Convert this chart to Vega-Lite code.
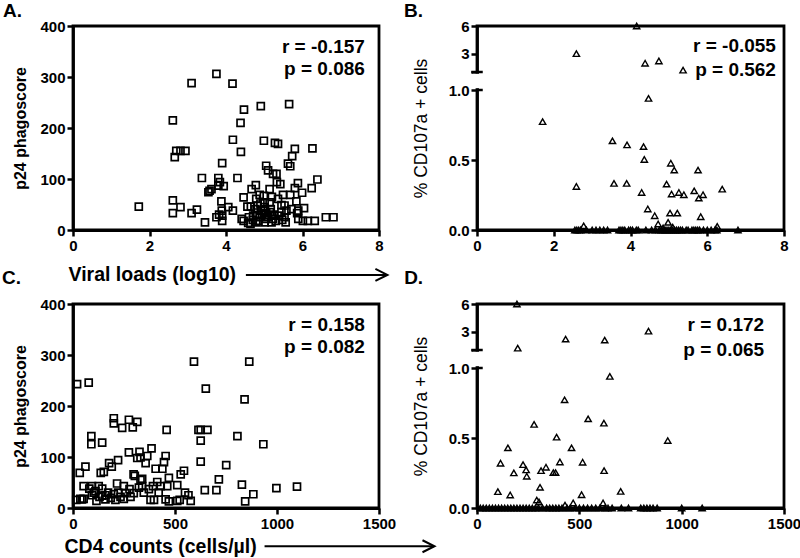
{
  "$schema": "https://vega.github.io/schema/vega-lite/v6.json",
  "padding": 0,
  "background": "white",
  "datasets": {
    "a": [
      {"vl":1.72,"p24":46},{"vl":2.61,"p24":215},{"vl":2.66,"p24":143},{"vl":2.70,"p24":155},{"vl":2.81,"p24":155},{"vl":2.94,"p24":155},{"vl":2.61,"p24":58},{"vl":2.61,"p24":33},{"vl":2.81,"p24":45},{"vl":3.10,"p24":288},{"vl":3.10,"p24":33},{"vl":3.24,"p24":40},{"vl":3.37,"p24":102},{"vl":3.45,"p24":15},{"vl":3.54,"p24":74},{"vl":3.57,"p24":77},{"vl":3.62,"p24":80},{"vl":3.75,"p24":306},{"vl":3.75,"p24":25},{"vl":3.80,"p24":102},{"vl":3.80,"p24":87},{"vl":3.84,"p24":94},{"vl":3.94,"p24":86},{"vl":3.90,"p24":131},{"vl":3.88,"p24":56},{"vl":3.89,"p24":38},{"vl":3.90,"p24":28},{"vl":3.90,"p24":18},{"vl":3.82,"p24":30},{"vl":4.06,"p24":45},{"vl":4.17,"p24":287},{"vl":4.18,"p24":177},{"vl":4.18,"p24":38},{"vl":4.30,"p24":102},{"vl":4.38,"p24":210},{"vl":4.39,"p24":153},{"vl":4.41,"p24":22},{"vl":4.47,"p24":236},{"vl":4.46,"p24":64},{"vl":4.46,"p24":18},{"vl":4.56,"p24":46},{"vl":4.58,"p24":14},{"vl":4.64,"p24":12},{"vl":4.65,"p24":46},{"vl":4.67,"p24":80},{"vl":4.71,"p24":28},{"vl":4.78,"p24":88},{"vl":4.79,"p24":61},{"vl":4.82,"p24":48},{"vl":4.82,"p24":29},{"vl":4.79,"p24":15},{"vl":4.91,"p24":243},{"vl":4.91,"p24":38},{"vl":4.88,"p24":25},{"vl":4.99,"p24":175},{"vl":4.99,"p24":67},{"vl":5.01,"p24":54},{"vl":5.02,"p24":38},{"vl":5.03,"p24":22},{"vl":5.05,"p24":126},{"vl":5.10,"p24":117},{"vl":5.14,"p24":80},{"vl":5.17,"p24":41},{"vl":5.19,"p24":28},{"vl":5.19,"p24":15},{"vl":5.23,"p24":110},{"vl":5.28,"p24":171},{"vl":5.32,"p24":110},{"vl":5.33,"p24":94},{"vl":5.36,"p24":169},{"vl":5.36,"p24":61},{"vl":5.39,"p24":28},{"vl":5.42,"p24":90},{"vl":5.45,"p24":49},{"vl":5.49,"p24":69},{"vl":5.53,"p24":48},{"vl":5.53,"p24":25},{"vl":5.56,"p24":15},{"vl":5.58,"p24":38},{"vl":5.65,"p24":247},{"vl":5.62,"p24":130},{"vl":5.68,"p24":125},{"vl":5.68,"p24":69},{"vl":5.71,"p24":41},{"vl":5.73,"p24":145},{"vl":5.80,"p24":159},{"vl":5.80,"p24":82},{"vl":5.86,"p24":33},{"vl":5.88,"p24":92},{"vl":5.89,"p24":38},{"vl":5.89,"p24":22},{"vl":5.99,"p24":73},{"vl":6.04,"p24":43},{"vl":6.01,"p24":18},{"vl":6.14,"p24":18},{"vl":6.24,"p24":82},{"vl":6.26,"p24":160},{"vl":6.32,"p24":18},{"vl":6.39,"p24":99},{"vl":6.61,"p24":25},{"vl":6.81,"p24":25},{"vl":5.84,"p24":56},{"vl":5.47,"p24":20},{"vl":5.23,"p24":22},{"vl":5.14,"p24":54},{"vl":4.88,"p24":69},{"vl":4.77,"p24":41},{"vl":5.01,"p24":15},
      {"vl":4.70,"p24":20},{"vl":4.85,"p24":18},{"vl":4.95,"p24":30},{"vl":5.05,"p24":33},{"vl":5.10,"p24":25},{"vl":5.15,"p24":35},{"vl":5.25,"p24":30},{"vl":5.30,"p24":18},{"vl":4.60,"p24":25},{"vl":5.45,"p24":35},{"vl":5.00,"p24":45},{"vl":4.90,"p24":52},{"vl":5.20,"p24":65}
    ],
    "b": [
      {"vl":1.71,"cd":0.774},{"vl":2.59,"cd":3.0},{"vl":2.59,"cd":0.311},{"vl":3.53,"cd":0.637},{"vl":3.57,"cd":0.333},{"vl":3.90,"cd":0.333},{"vl":3.91,"cd":0.608},{"vl":4.16,"cd":6},{"vl":4.29,"cd":0.268},{"vl":4.34,"cd":0.596},{"vl":4.36,"cd":0.504},{"vl":4.38,"cd":1.95},{"vl":4.45,"cd":0.150},{"vl":4.47,"cd":0.94},{"vl":4.63,"cd":0.102},{"vl":4.72,"cd":0.043},{"vl":4.74,"cd":2.2},{"vl":4.94,"cd":0.328},{"vl":4.98,"cd":0.055},{"vl":5.05,"cd":0.477},{"vl":5.03,"cd":0.121},{"vl":5.07,"cd":0.257},{"vl":5.14,"cd":0.428},{"vl":5.22,"cd":0.121},{"vl":5.26,"cd":0.268},{"vl":5.37,"cd":1.2},{"vl":5.39,"cd":0.252},{"vl":5.66,"cd":0.28},{"vl":5.76,"cd":0.428},{"vl":5.78,"cd":0.228},{"vl":5.83,"cd":0.095},{"vl":5.89,"cd":0.252},{"vl":6.39,"cd":0.292},{"vl":2.78,"cd":0.03},{"vl":6.26,"cd":0.026},{"vl":5.1,"cd":0.02},{"vl":4.85,"cd":0.015},
      {"vl":2.55,"cd":0},{"vl":2.6,"cd":0},{"vl":2.65,"cd":0},{"vl":2.7,"cd":0},{"vl":2.85,"cd":0},{"vl":3.0,"cd":0},{"vl":3.1,"cd":0},{"vl":3.2,"cd":0},{"vl":3.3,"cd":0},{"vl":3.4,"cd":0},{"vl":3.7,"cd":0},{"vl":3.75,"cd":0},{"vl":3.8,"cd":0},{"vl":3.85,"cd":0},{"vl":3.95,"cd":0},{"vl":4.0,"cd":0},{"vl":4.05,"cd":0},{"vl":4.15,"cd":0},{"vl":4.2,"cd":0},{"vl":4.4,"cd":0},{"vl":4.55,"cd":0},{"vl":4.65,"cd":0},{"vl":4.75,"cd":0},{"vl":4.8,"cd":0},{"vl":4.85,"cd":0},{"vl":4.9,"cd":0},{"vl":4.95,"cd":0},{"vl":5.0,"cd":0},{"vl":5.05,"cd":0},{"vl":5.1,"cd":0},{"vl":5.15,"cd":0},{"vl":5.2,"cd":0},{"vl":5.25,"cd":0},{"vl":5.3,"cd":0},{"vl":5.35,"cd":0},{"vl":5.45,"cd":0},{"vl":5.5,"cd":0},{"vl":5.6,"cd":0},{"vl":5.65,"cd":0},{"vl":5.7,"cd":0},{"vl":5.75,"cd":0},{"vl":5.8,"cd":0},{"vl":5.9,"cd":0},{"vl":6.0,"cd":0},{"vl":6.1,"cd":0},{"vl":6.2,"cd":0},{"vl":6.25,"cd":0},{"vl":6.8,"cd":0}
    ],
    "c": [
      {"cd4":20,"p24":243},{"cd4":77,"p24":246},{"cd4":33,"p24":69},{"cd4":16,"p24":16},{"cd4":36,"p24":18},{"cd4":52,"p24":18},{"cd4":61,"p24":81},{"cd4":52,"p24":43},{"cd4":80,"p24":38},{"cd4":90,"p24":141},{"cd4":90,"p24":125},{"cd4":93,"p24":43},{"cd4":102,"p24":30},{"cd4":110,"p24":33},{"cd4":115,"p24":14},{"cd4":126,"p24":43},{"cd4":136,"p24":69},{"cd4":143,"p24":128},{"cd4":151,"p24":71},{"cd4":143,"p24":38},{"cd4":143,"p24":24},{"cd4":159,"p24":17},{"cd4":172,"p24":30},{"cd4":177,"p24":88},{"cd4":190,"p24":81},{"cd4":200,"p24":176},{"cd4":200,"p24":166},{"cd4":200,"p24":27},{"cd4":208,"p24":16},{"cd4":221,"p24":94},{"cd4":216,"p24":48},{"cd4":221,"p24":30},{"cd4":233,"p24":22},{"cd4":241,"p24":157},{"cd4":249,"p24":43},{"cd4":249,"p24":18},{"cd4":274,"p24":109},{"cd4":274,"p24":173},{"cd4":277,"p24":37},{"cd4":282,"p24":22},{"cd4":293,"p24":158},{"cd4":297,"p24":66},{"cd4":303,"p24":63},{"cd4":315,"p24":169},{"cd4":315,"p24":98},{"cd4":326,"p24":110},{"cd4":331,"p24":99},{"cd4":331,"p24":55},{"cd4":323,"p24":40},{"cd4":339,"p24":57},{"cd4":347,"p24":30},{"cd4":356,"p24":88},{"cd4":364,"p24":102},{"cd4":372,"p24":37},{"cd4":380,"p24":16},{"cd4":385,"p24":117},{"cd4":392,"p24":43},{"cd4":397,"p24":16},{"cd4":405,"p24":77},{"cd4":413,"p24":51},{"cd4":420,"p24":30},{"cd4":430,"p24":43},{"cd4":438,"p24":77},{"cd4":446,"p24":90},{"cd4":454,"p24":102},{"cd4":459,"p24":153},{"cd4":462,"p24":43},{"cd4":470,"p24":59},{"cd4":454,"p24":17},{"cd4":470,"p24":13},{"cd4":511,"p24":14},{"cd4":523,"p24":16},{"cd4":528,"p24":66},{"cd4":544,"p24":73},{"cd4":511,"p24":45},{"cd4":549,"p24":30},{"cd4":566,"p24":25},{"cd4":577,"p24":14},{"cd4":593,"p24":287},{"cd4":615,"p24":153},{"cd4":626,"p24":153},{"cd4":626,"p24":132},{"cd4":626,"p24":91},{"cd4":659,"p24":153},{"cd4":646,"p24":35},{"cd4":651,"p24":234},{"cd4":703,"p24":35},{"cd4":715,"p24":56},{"cd4":751,"p24":84},{"cd4":806,"p24":141},{"cd4":828,"p24":46},{"cd4":841,"p24":213},{"cd4":844,"p24":13},{"cd4":864,"p24":287},{"cd4":884,"p24":27},{"cd4":933,"p24":125},{"cd4":997,"p24":39},{"cd4":1098,"p24":42},{"cd4":44,"p24":17},{"cd4":93,"p24":25},{"cd4":130,"p24":22},{"cd4":159,"p24":25},{"cd4":185,"p24":20},{"cd4":257,"p24":29},{"cd4":298,"p24":29},{"cd4":339,"p24":43}
    ],
    "d": [
      {"cd4":195,"cd":6},{"cd4":199,"cd":1.2},{"cd4":433,"cd":2.19},{"cd4":624,"cd":2.08},{"cd4":838,"cd":3.05},{"cd4":649,"cd":0.94},{"cd4":428,"cd":0.773},{"cd4":543,"cd":0.637},{"cd4":279,"cd":0.597},{"cd4":620,"cd":0.606},{"cd4":389,"cd":0.506},{"cd4":932,"cd":0.482},{"cd4":151,"cd":0.43},{"cd4":462,"cd":0.43},{"cd4":115,"cd":0.32},{"cd4":405,"cd":0.329},{"cd4":516,"cd":0.327},{"cd4":225,"cd":0.31},{"cd4":240,"cd":0.272},{"cd4":243,"cd":0.227},{"cd4":180,"cd":0.251},{"cd4":313,"cd":0.267},{"cd4":337,"cd":0.291},{"cd4":373,"cd":0.253},{"cd4":384,"cd":0.253},{"cd4":621,"cd":0.267},{"cd4":308,"cd":0.148},{"cd4":102,"cd":0.117},{"cd4":162,"cd":0.093},{"cd4":511,"cd":0.095},{"cd4":702,"cd":0.119},{"cd4":292,"cd":0.057},{"cd4":303,"cd":0.043},{"cd4":470,"cd":0.036},{"cd4":616,"cd":0.036},{"cd4":430,"cd":0.021},
      {"cd4":16,"cd":0},{"cd4":30,"cd":0},{"cd4":45,"cd":0},{"cd4":60,"cd":0},{"cd4":75,"cd":0},{"cd4":90,"cd":0},{"cd4":105,"cd":0},{"cd4":120,"cd":0},{"cd4":135,"cd":0},{"cd4":150,"cd":0},{"cd4":165,"cd":0},{"cd4":180,"cd":0},{"cd4":195,"cd":0},{"cd4":210,"cd":0},{"cd4":225,"cd":0},{"cd4":240,"cd":0},{"cd4":255,"cd":0},{"cd4":270,"cd":0},{"cd4":285,"cd":0},{"cd4":300,"cd":0},{"cd4":320,"cd":0},{"cd4":340,"cd":0},{"cd4":355,"cd":0},{"cd4":370,"cd":0},{"cd4":385,"cd":0},{"cd4":400,"cd":0},{"cd4":415,"cd":0},{"cd4":440,"cd":0},{"cd4":455,"cd":0},{"cd4":480,"cd":0},{"cd4":500,"cd":0},{"cd4":520,"cd":0},{"cd4":540,"cd":0},{"cd4":560,"cd":0},{"cd4":580,"cd":0},{"cd4":600,"cd":0},{"cd4":625,"cd":0},{"cd4":640,"cd":0},{"cd4":660,"cd":0},{"cd4":705,"cd":0},{"cd4":740,"cd":0},{"cd4":800,"cd":0},{"cd4":815,"cd":0},{"cd4":830,"cd":0},{"cd4":845,"cd":0},{"cd4":860,"cd":0},{"cd4":880,"cd":0},{"cd4":1000,"cd":0},{"cd4":1100,"cd":0}
    ]
  },
  "columns": 2,
  "bounds": "flush",
  "spacing": {"row": 74, "column": 98},
  "concat": [
    {
      "width": 306, "height": 204,
      "title": {"text": "A.", "dx": -70, "dy": 6},
      "layer": [
        {
          "data": {"name": "a"},
          "mark": {"type": "point", "shape": "square", "size": 49, "strokeWidth": 1.7, "color": "black", "filled": false, "opacity": 1},
          "encoding": {
            "x": {"field": "vl", "type": "quantitative", "scale": {"domain": [0, 8], "nice": false, "zero": false},
              "axis": {"values": [0, 2, 4, 6, 8], "title": "Viral loads (log10)", "titleAnchor": "start", "titleAlign": "left", "titleX": -5, "titleY": 44, "titleBaseline": "middle", "titleFontSize": 19.5, "titleFontWeight": "bold"}},
            "y": {"field": "p24", "type": "quantitative", "scale": {"domain": [0, 400], "nice": false},
              "axis": {"values": [0, 100, 200, 300, 400], "title": "p24 phagoscore", "titleFontSize": 16, "titleFontWeight": "bold", "titlePadding": 11}}
          }
        },
        {
          "data": {"values": [{}]},
          "mark": {"type": "text", "text": ["r = -0.157", "p = 0.086"], "align": "right", "baseline": "middle", "fontSize": 19, "fontWeight": "bold", "lineHeight": 22, "color": "black"},
          "encoding": {"x": {"datum": 7.63}, "y": {"datum": 359}}
        },
        {
          "data": {"values": [{}]},
          "mark": {"type": "rule", "strokeWidth": 2, "color": "black"},
          "encoding": {"x": {"datum": 4.52}, "x2": {"datum": 8.2}, "y": {"datum": -88}}
        },
        {
          "data": {"values": [{}]},
          "mark": {"type": "point", "shape": "M -1 -0.5 L 0 0 L -1 0.5", "size": 576, "strokeWidth": 2, "color": "black", "filled": false, "opacity": 1},
          "encoding": {"x": {"datum": 8.22}, "y": {"datum": -88}}
        }
      ]
    },
    {
      "width": 307, "height": 204,
      "title": {"text": "B.", "dx": -73, "dy": 6},
      "layer": [
        {
          "data": {"name": "b"},
          "mark": {"type": "point", "shape": "triangle-up", "size": 40, "strokeWidth": 1.4, "color": "black", "filled": false, "opacity": 1},
          "encoding": {
            "x": {"field": "vl", "type": "quantitative", "scale": {"domain": [0, 8], "nice": false, "zero": false},
              "axis": {"values": [0, 2, 4, 6, 8], "title": null}},
            "y": {"field": "cd", "type": "quantitative", "scale": {"domain": [0, 1, 1.0001, 6], "range": [204, 64, 46, 0], "nice": false, "zero": false},
              "axis": {"values": [0, 0.5, 1, 1.0001, 3, 6], "labelExpr": "datum.value > 1.00001 && datum.value < 2 ? '' : (datum.value <= 1 ? format(datum.value, '.1f') : format(datum.value, 'd'))", "title": "% CD107a + cells", "titleFontSize": 17.5, "titleFontWeight": "normal", "titlePadding": 18}}
          }
        },
        {
          "data": {"values": [{}]},
          "mark": {"type": "rule", "color": "white", "strokeWidth": 8, "strokeCap": "butt"},
          "encoding": {"x": {"datum": 0}, "y": {"datum": 1.00001}, "y2": {"datum": 1.00009}}
        },
        {
          "data": {"values": [{}]},
          "mark": {"type": "rule", "color": "black", "strokeWidth": 2.5},
          "encoding": {"x": {"datum": -0.15}, "x2": {"datum": 0.15}, "y": {"datum": 1.0001}}
        },
        {
          "data": {"values": [{}]},
          "mark": {"type": "rule", "color": "black", "strokeWidth": 2.5},
          "encoding": {"x": {"datum": 0}, "x2": {"datum": 0.15}, "y": {"datum": 1}}
        },
        {
          "data": {"values": [{}]},
          "mark": {"type": "text", "text": ["r = -0.055", "p = 0.562"], "align": "right", "baseline": "middle", "fontSize": 19, "fontWeight": "bold", "lineHeight": 24, "color": "black"},
          "encoding": {"x": {"datum": 7.79}, "y": {"datum": 3.83}}
        }
      ]
    },
    {
      "width": 306, "height": 204,
      "layer": [
        {
          "data": {"name": "c"},
          "mark": {"type": "point", "shape": "square", "size": 49, "strokeWidth": 1.7, "color": "black", "filled": false, "opacity": 1},
          "encoding": {
            "x": {"field": "cd4", "type": "quantitative", "scale": {"domain": [0, 1500], "nice": false, "zero": false},
              "axis": {"values": [0, 500, 1000, 1500], "format": "d", "title": "CD4 counts (cells/µl)", "titleAnchor": "start", "titleAlign": "left", "titleX": -9, "titleY": 38, "titleBaseline": "middle", "titleFontSize": 19.5, "titleFontWeight": "bold"}},
            "y": {"field": "p24", "type": "quantitative", "scale": {"domain": [0, 400], "nice": false},
              "axis": {"values": [0, 100, 200, 300, 400], "title": "p24 phagoscore", "titleFontSize": 16, "titleFontWeight": "bold", "titlePadding": 11}}
          }
        },
        {
          "data": {"values": [{}]},
          "mark": {"type": "text", "text": "C.", "align": "left", "baseline": "middle", "fontSize": 19, "fontWeight": "bold", "color": "black"},
          "encoding": {"x": {"datum": -348}, "y": {"datum": 451}}
        },
        {
          "data": {"values": [{}]},
          "mark": {"type": "text", "text": ["r = 0.158", "p = 0.082"], "align": "right", "baseline": "middle", "fontSize": 19, "fontWeight": "bold", "lineHeight": 22, "color": "black"},
          "encoding": {"x": {"datum": 1431}, "y": {"datum": 359}}
        },
        {
          "data": {"values": [{}]},
          "mark": {"type": "rule", "strokeWidth": 2, "color": "black"},
          "encoding": {"x": {"datum": 939}, "x2": {"datum": 1768}, "y": {"datum": -75}}
        },
        {
          "data": {"values": [{}]},
          "mark": {"type": "point", "shape": "M -1 -0.5 L 0 0 L -1 0.5", "size": 576, "strokeWidth": 2, "color": "black", "filled": false, "opacity": 1},
          "encoding": {"x": {"datum": 1772}, "y": {"datum": -75}}
        }
      ]
    },
    {
      "width": 307, "height": 204,
      "layer": [
        {
          "data": {"name": "d"},
          "mark": {"type": "point", "shape": "triangle-up", "size": 40, "strokeWidth": 1.4, "color": "black", "filled": false, "opacity": 1},
          "encoding": {
            "x": {"field": "cd4", "type": "quantitative", "scale": {"domain": [0, 1500], "nice": false, "zero": false},
              "axis": {"values": [0, 500, 1000, 1500], "format": "d", "title": null}},
            "y": {"field": "cd", "type": "quantitative", "scale": {"domain": [0, 1, 1.0001, 6], "range": [204, 64, 46, 0], "nice": false, "zero": false},
              "axis": {"values": [0, 0.5, 1, 1.0001, 3, 6], "labelExpr": "datum.value > 1.00001 && datum.value < 2 ? '' : (datum.value <= 1 ? format(datum.value, '.1f') : format(datum.value, 'd'))", "title": "% CD107a + cells", "titleFontSize": 17.5, "titleFontWeight": "normal", "titlePadding": 18}}
          }
        },
        {
          "data": {"values": [{}]},
          "mark": {"type": "text", "text": "D.", "align": "left", "baseline": "middle", "fontSize": 19, "fontWeight": "bold", "color": "black"},
          "encoding": {"x": {"datum": -356}, "y": {"datum": 8.83}}
        },
        {
          "data": {"values": [{}]},
          "mark": {"type": "rule", "color": "white", "strokeWidth": 8, "strokeCap": "butt"},
          "encoding": {"x": {"datum": 0}, "y": {"datum": 1.00001}, "y2": {"datum": 1.00009}}
        },
        {
          "data": {"values": [{}]},
          "mark": {"type": "rule", "color": "black", "strokeWidth": 2.5},
          "encoding": {"x": {"datum": -28}, "x2": {"datum": 28}, "y": {"datum": 1.0001}}
        },
        {
          "data": {"values": [{}]},
          "mark": {"type": "rule", "color": "black", "strokeWidth": 2.5},
          "encoding": {"x": {"datum": 0}, "x2": {"datum": 28}, "y": {"datum": 1}}
        },
        {
          "data": {"values": [{}]},
          "mark": {"type": "text", "text": ["r = 0.172", "p = 0.065"], "align": "right", "baseline": "middle", "fontSize": 19, "fontWeight": "bold", "lineHeight": 25, "color": "black"},
          "encoding": {"x": {"datum": 1403}, "y": {"datum": 3.72}}
        }
      ]
    }
  ],
  "config": {
    "font": "Liberation Sans",
    "view": {"stroke": "black", "strokeWidth": 2.8},
    "title": {"anchor": "start", "frame": "group", "fontSize": 19, "fontWeight": "bold", "color": "black", "font": "Liberation Sans", "offset": 0},
    "axis": {"grid": false, "domainColor": "black", "domainWidth": 2.8, "tickColor": "black", "tickWidth": 2.5, "tickSize": 6, "labelFont": "Liberation Sans", "labelFontWeight": "bold", "labelFontSize": 15, "labelColor": "black", "labelPadding": 2, "labelFlush": false, "labelOverlap": false, "titleColor": "black", "titleFont": "Liberation Sans"}
  }
}
